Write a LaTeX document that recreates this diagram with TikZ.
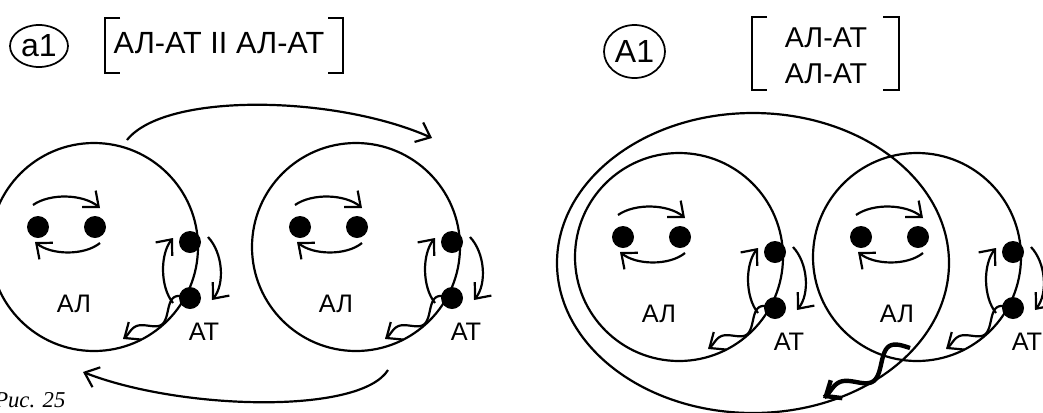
\documentclass[tikz,border=0pt]{standalone}
\usepackage{fontspec}
\setmainfont{Liberation Sans}
\newfontfamily\figfont{Liberation Serif}
\usetikzlibrary{arrows.meta,shapes.geometric}
\tikzset{
  ln/.style={line width=1.65pt},
  tipv/.style={-{Straight Barb[length=9.5pt,width=16pt]}},
  dotn/.style={circle, fill=black, inner sep=0pt, minimum size=16.5pt},
  cellc/.style={circle, draw, line width=1.65pt, minimum size=156pt, inner sep=0pt},
  lbl/.style={font=\fontsize{19}{22}\selectfont, anchor=base, inner sep=0pt},
  brk/.style={line width=2.1pt},
  tag/.style={draw, ellipse, line width=1.3pt, inner sep=0pt, font=\fontsize{24}{26}\selectfont},
  hdr/.style={anchor=base, inner sep=0pt},
}
\newcommand\cellunit[3]{%
  \begin{scope}[shift={(#2,#3)}]
    \node[cellc] (#1) at (0,0) {};
    \draw[ln,tipv] (-61,-42) .. controls (-44,-54) and (-11,-53) .. (6,-39);
    \draw[ln,tipv] (6,-4) .. controls (-10,9) and (-43,8) .. (-59,-5);
    \draw[ln,tipv] (79,56) .. controls (66,40) and (66,7) .. (79,-9);
    \draw[ln,tipv] (114,-10) .. controls (129,6) and (131,37) .. (118,53);
    \node[dotn] (#1a) at (-56,-20) {};
    \node[dotn] (#1b) at (1,-20) {};
    \node[dotn] (#1u) at (96,-5) {};
    \node[dotn] (#1d) at (96,51) {};
    \coordinate (#1w) at (29,92);
    \draw[ln,tipv] plot[domain=0:1, samples=60, variable=\t]
      ({96-67*\t-0.522*9*sin(540*\t)*(1-\t^3)}, {51+41*\t-0.853*9*sin(540*\t)*(1-\t^3)});
    \node[lbl] (#1al) at (-20,65) {АЛ};
    \node[lbl] (#1at) at (110,93) {АТ};
  \end{scope}}
\begin{document}
\begin{tikzpicture}[x=0.75pt,y=-0.75pt]
\useasboundingbox (0,0) rectangle (1043,412);
% ---- left figure ----
\node[tag, minimum width=43.5pt, minimum height=31.5pt] (ta1) at (39,46) {a1};
\draw[brk] (120,18) -- (105,18) -- (105,73) -- (120,73);
\draw[brk] (328,18) -- (343,18) -- (343,73) -- (328,73);
\node[hdr, font=\fontsize{23}{26}\selectfont] (hl) at (219,53) {АЛ-АТ II АЛ-АТ};
\cellunit{c1}{94}{247}
\cellunit{c2}{356}{247}
\coordinate (topS) at (127,140);
\coordinate (topE) at (432,138);
\draw[ln,tipv] (topS) .. controls (165,92) and (335,95) .. (topE);
\coordinate (botS) at (388,370);
\coordinate (botE) at (83,372);
\draw[ln,tipv] (botS) .. controls (360,415) and (180,410) .. (botE);
\node[anchor=base west, inner sep=0pt, font={\figfont\itshape\fontsize{17}{20}\selectfont}] (cap) at (-6,407) {Рис. 25};
% ---- right figure ----
\node[tag, minimum width=45.75pt, minimum height=39.75pt] (tA1) at (634.5,51.5) {А1};
\draw[brk] (767,17) -- (752,17) -- (752,90) -- (767,90);
\draw[brk] (883,17) -- (899,17) -- (899,90) -- (883,90);
\node[hdr, font=\fontsize{21.5}{27}\selectfont] (hr1) at (826,47) {АЛ-АТ};
\node[hdr, font=\fontsize{21.5}{27}\selectfont] (hr2) at (826,83) {АЛ-АТ};
\node[draw, ellipse, line width=1.65pt, inner sep=0pt, minimum width=294pt, minimum height=225pt] (big) at (753,263) {};
\cellunit{c3}{679}{257}
\cellunit{c4}{917}{257}
\coordinate (twS) at (910,348);
\coordinate (twE) at (823,398);
\draw[line width=3.3pt,tipv] plot[domain=0:1, samples=70, variable=\t]
  ({910-87*\t-0.5*12*sin(540*\t)*(1-\t^3)}, {348+50*\t-0.87*12*sin(540*\t)*(1-\t^3)});
\end{tikzpicture}
\end{document}
